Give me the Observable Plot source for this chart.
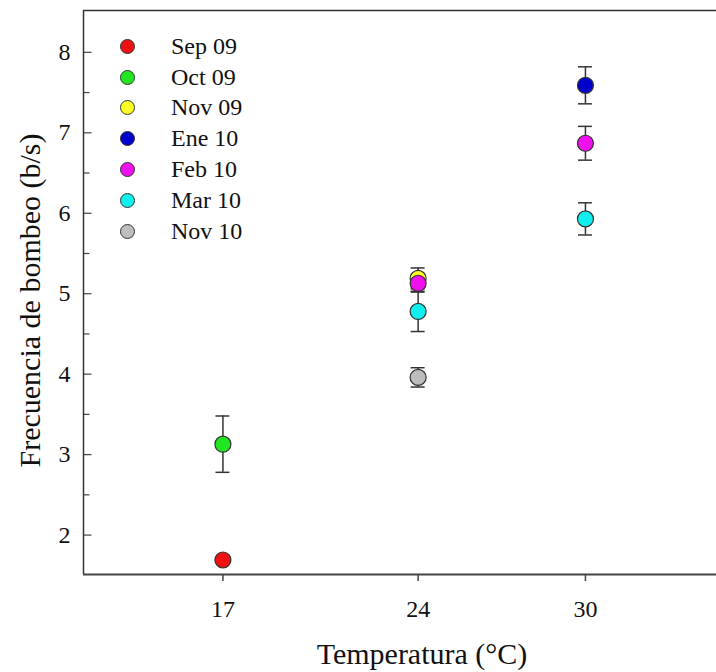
<!DOCTYPE html>
<html>
<head>
<meta charset="utf-8">
<script src="https://cdn.jsdelivr.net/npm/d3@7"></script>
<script src="https://cdn.jsdelivr.net/npm/@observablehq/plot@0.6"></script>
<style>
  html, body { margin: 0; padding: 0; background: #fff; }
  #wrap { position: relative; width: 716px; height: 672px; font-family: "Liberation Serif", serif; }
  #wrap svg [aria-label="x-axis tick label"] text,
  #wrap svg [aria-label="y-axis tick label"] text { font-size: 24px; font-family: "Liberation Serif", serif; }
  #legend { position: absolute; left: 120px; top: 31px; }
  .row { display: flex; align-items: center; height: 30.8px; font-size: 24px; color: #111; }
  .sw { width: 15px; height: 15px; border-radius: 50%; border: 1.2px solid #333; box-sizing: border-box; margin-right: 36px; }
</style>
</head>
<body>
<div id="wrap"><div id="legend"></div></div>
<script>
const months = ["Sep 09", "Oct 09", "Nov 09", "Ene 10", "Feb 10", "Mar 10", "Nov 10"];
const colors = ["#ee1111", "#22e622", "#ffff22", "#0000cc", "#ee11ee", "#11eeee", "#bdbdbd"];

const obsMonth = ["Sep 09", "Oct 09", "Nov 09", "Ene 10", "Feb 10", "Feb 10", "Mar 10", "Mar 10", "Nov 10"];
const obsTemp  = [17, 17, 24, 30, 24, 30, 24, 30, 24];
const obsMean  = [1.69, 3.13, 5.19, 7.59, 5.13, 6.87, 4.78, 5.93, 3.96];
const obsErr   = [0.02, 0.35, 0.13, 0.23, 0.11, 0.21, 0.25, 0.20, 0.12];

const xTicks = [17, 24, 30];
const yTicks = [2, 3, 4, 5, 6, 7, 8];
const yMinor = [2.5, 3.5, 4.5, 5.5, 6.5, 7.5];
const xDomain = [12, 34.7];
const yDomain = [1.51, 8.52];

const xTitle = "Temperatura (°C)";
const yTitle = "Frecuencia de bombeo (b/s)";

const obs = obsMonth.map((m, i) => ({month: m, x: obsTemp[i], y: obsMean[i], e: obsErr[i]}));
const capHalf = 0.25;

const inTick = (len) => ({ draw(ctx) { ctx.moveTo(0, 0); ctx.lineTo(len, 0); } });

const chart = Plot.plot({
  width: 716,
  height: 672,
  marginLeft: 83,
  marginRight: 0,
  marginTop: 10,
  marginBottom: 98,
  style: { fontFamily: "Liberation Serif, serif", fontSize: "24px", color: "#111", background: "#fff" },
  x: { domain: xDomain },
  y: { domain: yDomain },
  color: { domain: months, range: colors },
  marks: [
    Plot.axisX({ ticks: xTicks, tickSize: 7, tickPadding: 18, label: null, stroke: "#444", strokeWidth: 1.5, tickFormat: d3.format("d") }),
    Plot.axisY({ ticks: yTicks, tickSize: 0, tickPadding: 13, label: null, tickFormat: d3.format("d") }),
    Plot.dot(yTicks, { x: xDomain[0], y: d => d, symbol: inTick(8), stroke: "#444", strokeWidth: 1.2, fill: "none" }),
    Plot.dot(yMinor, { x: xDomain[0], y: d => d, symbol: inTick(6), stroke: "#444", strokeWidth: 1.2, fill: "none" }),
    Plot.ruleX([xDomain[0]], { stroke: "#333", strokeWidth: 1.5 }),
    Plot.ruleY([yDomain[0]], { stroke: "#444", strokeWidth: 2.2 }),
    Plot.ruleY([yDomain[1]], { stroke: "#333", strokeWidth: 1.3 }),
    Plot.ruleX(obs, { x: "x", y1: d => d.y - d.e, y2: d => d.y + d.e, stroke: "#333", strokeWidth: 1.5 }),
    Plot.ruleY(obs, { y: d => d.y + d.e, x1: d => d.x - capHalf, x2: d => d.x + capHalf, stroke: "#333", strokeWidth: 1.5 }),
    Plot.ruleY(obs, { y: d => d.y - d.e, x1: d => d.x - capHalf, x2: d => d.x + capHalf, stroke: "#333", strokeWidth: 1.5 }),
    Plot.dot(obs, { x: "x", y: "y", fill: "month", r: 8, stroke: "#333", strokeWidth: 1.2 }),
    Plot.text([yTitle], { frameAnchor: "left", textAnchor: "middle", lineAnchor: "middle", dx: -53, dy: 8, rotate: -90, fontSize: 30, fill: "#111", fontFamily: "Liberation Serif, serif" }),
    Plot.text([xTitle], { frameAnchor: "bottom", textAnchor: "middle", lineAnchor: "middle", dx: 22, dy: 80, fontSize: 30, fill: "#111", fontFamily: "Liberation Serif, serif" })
  ]
});

const wrap = document.getElementById("wrap");
wrap.insertBefore(chart, wrap.firstChild);

const legend = document.getElementById("legend");
months.forEach((m, i) => {
  const row = document.createElement("div");
  row.className = "row";
  const sw = document.createElement("span");
  sw.className = "sw";
  sw.style.background = colors[i];
  const t = document.createElement("span");
  t.textContent = m;
  row.appendChild(sw);
  row.appendChild(t);
  legend.appendChild(row);
});
</script>
</body>
</html>
